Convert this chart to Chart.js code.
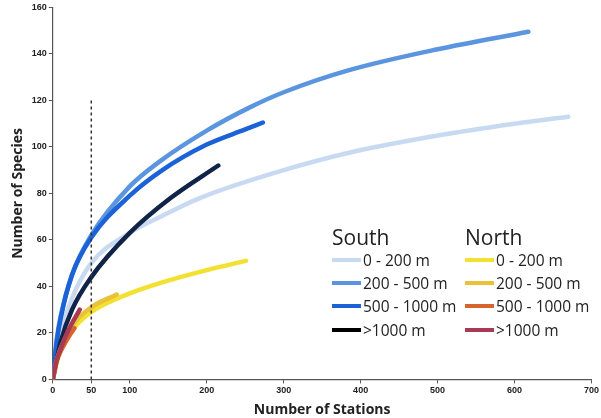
<!DOCTYPE html>
<html>
<head>
<meta charset="utf-8">
<script src="https://cdn.jsdelivr.net/npm/chart.js@4/dist/chart.umd.min.js"></script>
<style>
  body { margin: 0; background: #fff; }
  #wrap { position: relative; width: 601px; height: 418px; }
  #legend { position: absolute; left: 332px; top: 226px; font-family: "Open Sans", "Liberation Sans", sans-serif; color: #222; }
  .col { position: absolute; top: 0; width: 150px; }
  .col h3 { margin: 0; font-weight: normal; font-size: 21px; line-height: 22px; }
  .item { height: 23.3px; display: flex; align-items: center; font-size: 15.5px; white-space: nowrap; }
  .item span.sw { display: inline-block; width: 29px; height: 4px; margin-right: 2px; }
</style>
</head>
<body>
<div id="wrap">
  <canvas id="chart" width="601" height="418"></canvas>
  <div id="legend"></div>
</div>
<script>
// Rarefaction curves: [stations, species]
const depthLabels = ["0 - 200 m", "200 - 500 m", "500 - 1000 m", ">1000 m"];

const southShallowX = [0, 5, 10, 25, 50, 100, 140, 191, 300, 385, 502, 600, 670];
const southShallowY = [0, 12, 20, 35, 50, 63, 70, 78, 90, 97.5, 105, 110, 113];
const southUpperX = [0, 5, 10, 25, 50, 100, 140, 200, 256, 300, 385, 500, 618];
const southUpperY = [0, 17, 27, 45, 62, 83, 94, 107, 117, 123.5, 133, 142, 149.5];
const southMidX = [0, 5, 10, 25, 50, 100, 140, 200, 250, 273];
const southMidY = [0, 16, 26, 45, 61, 79, 89.5, 101, 107.5, 110.5];
const southDeepX = [0, 5, 10, 25, 50, 100, 153, 215];
const southDeepY = [0, 8, 16, 30, 44, 63, 78, 92];

const northShallowX = [0, 5, 10, 25, 50, 100, 140, 200, 251];
const northShallowY = [0, 7, 12, 21, 29, 37, 41.5, 47, 51];
const northUpperX = [0, 5, 10, 25, 50, 83];
const northUpperY = [0, 8, 13, 23, 31, 36.5];
const northMidX = [0, 5, 10, 20, 28];
const northMidY = [0, 8, 12, 18, 22];
const northDeepX = [0, 5, 10, 20, 35];
const northDeepY = [0, 8, 13, 21, 30];

const cutoffX = [50, 50];
const cutoffY = [0, 120];

const xTicks = [0, 50, 100, 200, 300, 400, 500, 600, 700];

const southColors = ["#c8daf2", "#5b95e0", "#1a62d6", "#0f2448"];
const southSwatch = ["#c8daf2", "#5b95e0", "#1a62d6", "#000000"];
const northColors = ["#f2e130", "#e9c23a", "#d8632c", "#a83a55"];

const pts = (xs, ys) => xs.map((x, i) => ({ x, y: ys[i] }));

const curve = (label, xs, ys, color, order) => ({
  label,
  data: pts(xs, ys),
  borderColor: color,
  borderWidth: 4.5,
  pointRadius: 0,
  cubicInterpolationMode: "monotone",
  borderCapStyle: "round",
  fill: false,
  order
});

const datasets = [
  curve("South 0 - 200 m", southShallowX, southShallowY, southColors[0], 8),
  curve("South 200 - 500 m", southUpperX, southUpperY, southColors[1], 7),
  curve("South 500 - 1000 m", southMidX, southMidY, southColors[2], 6),
  curve("South >1000 m", southDeepX, southDeepY, southColors[3], 5),
  curve("North 0 - 200 m", northShallowX, northShallowY, northColors[0], 4),
  curve("North 200 - 500 m", northUpperX, northUpperY, northColors[1], 3),
  curve("North 500 - 1000 m", northMidX, northMidY, northColors[2], 2),
  curve("North >1000 m", northDeepX, northDeepY, northColors[3], 1),
  {
    label: "cutoff",
    data: pts(cutoffX, cutoffY),
    borderColor: "#333",
    borderWidth: 1.5,
    borderDash: [3, 3],
    pointRadius: 0,
    order: 0
  }
];

const tickFont = { family: "'Liberation Sans', sans-serif", size: 9, weight: "bold" };
const titleFont = { family: "'Open Sans', sans-serif", size: 14, weight: "bold" };

new Chart(document.getElementById("chart"), {
  type: "line",
  data: { datasets },
  options: {
    responsive: false,
    animation: false,
    layout: { padding: { top: 6, right: 4, left: 6, bottom: 0 } },
    plugins: { legend: { display: false }, tooltip: { enabled: false } },
    scales: {
      x: {
        type: "linear",
        min: 0,
        max: 700,
        afterBuildTicks: axis => { axis.ticks = xTicks.map(v => ({ value: v })); },
        grid: { display: true, drawOnChartArea: false, drawTicks: true, tickLength: 4, color: "#555" },
        border: { color: "#555", width: 1.2 },
        ticks: { font: tickFont, color: "#222", padding: 2, maxRotation: 0 },
        title: { display: true, text: "Number of Stations", font: titleFont, color: "#222", padding: { top: 3, bottom: 0 } }
      },
      y: {
        min: 0,
        max: 160,
        grid: { display: true, drawOnChartArea: false, drawTicks: true, tickLength: 4, color: "#555" },
        border: { color: "#555", width: 1.2 },
        ticks: { stepSize: 20, font: tickFont, color: "#222", padding: 2 },
        title: { display: true, text: "Number of Species", font: titleFont, color: "#222", padding: { bottom: 3 } }
      }
    }
  }
});

// HTML legend in two columns
const legend = document.getElementById("legend");
[["South", southSwatch, 0], ["North", northColors, 133]].forEach(([name, colors, left]) => {
  const col = document.createElement("div");
  col.className = "col";
  col.style.left = left + "px";
  col.innerHTML = `<h3>${name}</h3>` + depthLabels.map((d, i) =>
    `<div class="item"><span class="sw" style="background:${colors[i]}"></span>${d}</div>`).join("");
  legend.appendChild(col);
});
</script>
</body>
</html>
